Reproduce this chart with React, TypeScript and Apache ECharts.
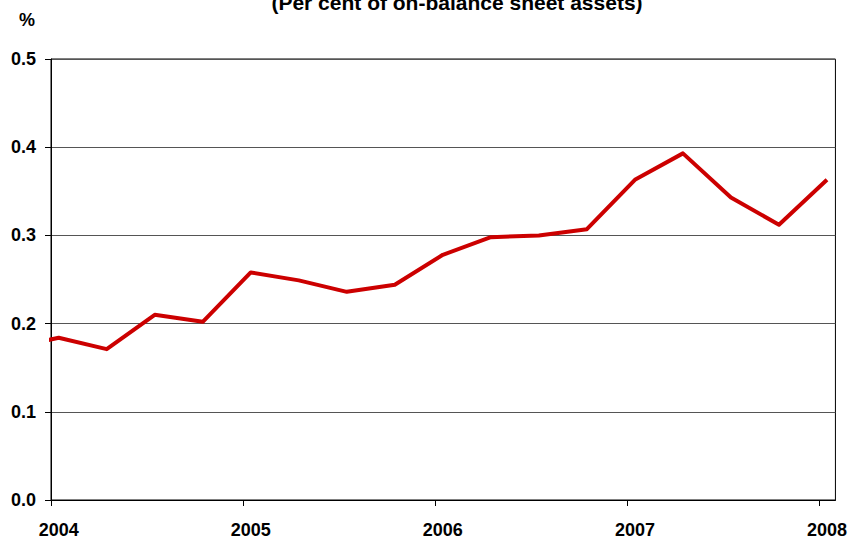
import React, { useEffect, useRef } from "react";
import * as echarts from "echarts";

// Quarterly observation positions (decimal years) and values (%)
const xYears = [2003.79, 2004.04, 2004.29, 2004.54, 2004.79, 2005.04, 2005.29, 2005.54, 2005.79, 2006.04, 2006.29, 2006.54, 2006.79, 2007.04, 2007.29, 2007.54, 2007.79, 2008.04];
const values = [0.172, 0.184, 0.171, 0.210, 0.202, 0.258, 0.249, 0.236, 0.244, 0.278, 0.298, 0.300, 0.307, 0.363, 0.393, 0.343, 0.312, 0.363];
const yearTicks = [2004, 2005, 2006, 2007, 2008];
const yearLabelPositions = [2004.04, 2005.04, 2006.04, 2007.04, 2008.04];
const titleText = "(Per cent of on-balance sheet assets)";
const unitText = "%";

const FONT = "'Liberation Sans', Arial, Helvetica, sans-serif";

export default function App() {
  const ref = useRef<HTMLDivElement>(null);

  useEffect(() => {
    if (!ref.current) return;
    const chart = echarts.init(ref.current, undefined, { renderer: "svg" });
    const option: any = {
      animation: false,
      backgroundColor: "#ffffff",
      textStyle: { fontFamily: FONT },
      grid: {
        left: 51,
        right: 14,
        top: 59,
        bottom: 34,
        show: true,
        borderColor: "#000",
        borderWidth: 1,
        containLabel: false,
      },
      graphic: [
        {
          type: "text",
          x: 457,
          y: -8,
          style: {
            text: titleText,
            font: `bold 21px ${FONT}`,
            fill: "#000",
            textAlign: "center",
            textVerticalAlign: "top",
          },
        },
        {
          type: "text",
          x: 19,
          y: 11,
          style: {
            text: unitText,
            font: `bold 18px ${FONT}`,
            fill: "#000",
          },
        },
      ],
      xAxis: {
        type: "value",
        min: 2004,
        max: 2008.084,
        interval: 1,
        axisLine: { show: true, lineStyle: { color: "#000", width: 1 } },
        axisTick: {
          show: true,
          length: 6,
          customValues: yearTicks,
          lineStyle: { color: "#000" },
        },
        splitLine: { show: false },
        axisLabel: {
          customValues: yearLabelPositions,
          formatter: (v: number) => String(Math.floor(v)),
          margin: 21,
          color: "#000",
          fontWeight: "bold",
          fontSize: 18,
          fontFamily: FONT,
        },
      },
      yAxis: {
        type: "value",
        min: 0,
        max: 0.5,
        interval: 0.1,
        axisLine: { show: true, lineStyle: { color: "#000", width: 1 } },
        axisTick: { show: true, length: 6, lineStyle: { color: "#000" } },
        splitLine: { show: true, lineStyle: { color: "#555", width: 1 } },
        axisLabel: {
          formatter: (v: number) => v.toFixed(1),
          margin: 15,
          color: "#000",
          fontWeight: "bold",
          fontSize: 18,
          fontFamily: FONT,
        },
      },
      series: [
        {
          type: "line",
          data: xYears.map((x, i) => [x, values[i]]),
          showSymbol: false,
          clip: true,
          lineStyle: { color: "#cc0000", width: 4, join: "round" },
          itemStyle: { color: "#cc0000" },
        },
      ],
    };
    chart.setOption(option);
    return () => chart.dispose();
  }, []);

  return (
    <div
      ref={ref}
      style={{ position: "fixed", left: 0, top: 0, width: 850, height: 539 }}
    />
  );
}
